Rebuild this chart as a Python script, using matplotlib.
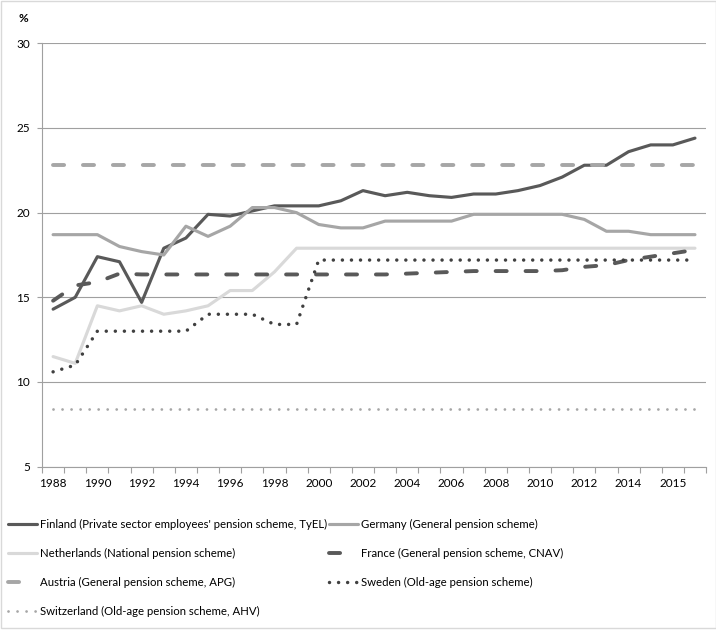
import matplotlib.pyplot as plt
from matplotlib.patches import Rectangle

plt.rcParams['font.family'] = ['Lato', 'DejaVu Sans']

# categories (x axis), labelled every second one
cats = list(range(30))
tick_labels = ['1988', '', '1990', '', '1992', '', '1994', '', '1996', '', '1998', '',
               '2000', '', '2002', '', '2004', '', '2006', '', '2008', '', '2010', '',
               '2012', '', '2014', '', '2015', '']

finland = [14.3, 15.0, 17.4, 17.1, 14.7, 17.9, 18.5, 19.9, 19.8, 20.1,
           20.4, 20.4, 20.4, 20.7, 21.3, 21.0, 21.2, 21.0, 20.9, 21.1,
           21.1, 21.3, 21.6, 22.1, 22.8, 22.8, 23.6, 24.0, 24.0, 24.4]
germany = [18.7, 18.7, 18.7, 18.0, 17.7, 17.5, 19.2, 18.6, 19.2, 20.3,
           20.3, 20.0, 19.3, 19.1, 19.1, 19.5, 19.5, 19.5, 19.5, 19.9,
           19.9, 19.9, 19.9, 19.9, 19.6, 18.9, 18.9, 18.7, 18.7, 18.7]
netherlands = [11.5, 11.1, 14.5, 14.2, 14.5, 14.0, 14.2, 14.5, 15.4, 15.4,
               16.5, 17.9, 17.9, 17.9, 17.9, 17.9, 17.9, 17.9, 17.9, 17.9,
               17.9, 17.9, 17.9, 17.9, 17.9, 17.9, 17.9, 17.9, 17.9, 17.9]
france = [14.8, 15.7, 15.9, 16.4, 16.35, 16.35, 16.35, 16.35, 16.35, 16.35,
          16.35, 16.35, 16.35, 16.35, 16.35, 16.35, 16.4, 16.45, 16.5, 16.55,
          16.55, 16.55, 16.55, 16.6, 16.8, 16.9, 17.2, 17.4, 17.6, 17.8]
austria = [22.8] * 30
sweden = [10.6, 11.0, 13.0, 13.0, 13.0, 13.0, 13.0, 14.0, 14.0, 14.0,
          13.4, 13.4, 17.2, 17.2, 17.2, 17.2, 17.2, 17.2, 17.2, 17.2,
          17.2, 17.2, 17.2, 17.2, 17.2, 17.2, 17.2, 17.2, 17.2, 17.2]
switzerland = [8.4] * 30

labels = ["Finland (Private sector employees' pension scheme, TyEL)",
          "Germany (General pension scheme)",
          "Netherlands (National pension scheme)",
          "France (General pension scheme, CNAV)",
          "Austria (General pension scheme, APG)",
          "Sweden (Old-age pension scheme)",
          "Switzerland (Old-age pension scheme, AHV)"]

fig = plt.figure(figsize=(7.16, 6.32), dpi=100)
ax = fig.add_axes([0.0587, 0.2616, 0.9274, 0.6699])

dash = (0, (2.85, 4.85))
l_fi, = ax.plot(cats, finland, color='#595959', lw=2.25, solid_capstyle='round', label=labels[0])
l_de, = ax.plot(cats, germany, color='#a6a6a6', lw=2.25, solid_capstyle='round', label=labels[1])
l_nl, = ax.plot(cats, netherlands, color='#d9d9d9', lw=2.25, solid_capstyle='round', label=labels[2])
l_fr, = ax.plot(cats, france, color='#595959', lw=2.8, ls=dash, dash_capstyle='round', label=labels[3])
l_at, = ax.plot(cats, austria, color='#a6a6a6', lw=2.8, ls=dash, dash_capstyle='round', label=labels[4])
l_se, = ax.plot(cats, sweden, color='#404040', lw=2.5, ls=(0, (0.01, 2.6)), dash_capstyle='round', label=labels[5])
l_ch, = ax.plot(cats, switzerland, color='#a6a6a6', lw=2.0, ls=(0, (0.01, 3.24)), dash_capstyle='round', label=labels[6])

ax.set_xlim(-0.5, 29.5)
ax.set_ylim(5, 30)
ax.set_yticks(range(5, 31, 5))
ax.yaxis.grid(True, color='#a0a0a0', lw=0.8)
ax.set_axisbelow(True)

ax.set_xticks(cats)
ax.set_xticklabels(tick_labels)
ax.set_xticks([i - 0.5 for i in range(31)], minor=True)
ax.tick_params(axis='x', which='major', length=0, pad=8, labelsize=8.5, colors='#000000')
ax.tick_params(axis='x', which='minor', length=4, color='#a0a0a0', width=0.8)
ax.tick_params(axis='y', length=3.5, color='#a0a0a0', width=0.8, pad=5, labelsize=8.5)

for s in ['top', 'right']:
    ax.spines[s].set_visible(False)
for s in ['left', 'bottom']:
    ax.spines[s].set_color('#a0a0a0')
    ax.spines[s].set_linewidth(0.8)

fig.text(23 / 716, 1 - 18 / 632, '%', fontsize=8.5, fontweight='bold', ha='center', va='center')

handles = [l_fi, l_nl, l_at, l_ch, l_de, l_fr, l_se]
fig.legend(handles=handles, labels=[h.get_label() for h in handles], ncol=2,
           loc='upper left', bbox_to_anchor=(8 / 716, 1 - 519 / 632),
           frameon=False, fontsize=8.2, handlelength=2.55, handletextpad=0.3,
           columnspacing=0.1, labelspacing=1.57, borderpad=0, borderaxespad=0)

fig.patches.append(Rectangle((0.5, 4), 715, 627, transform=None, fill=False,
                             edgecolor='#d9d9d9', lw=1))

fig.savefig('out.png', dpi=100)
